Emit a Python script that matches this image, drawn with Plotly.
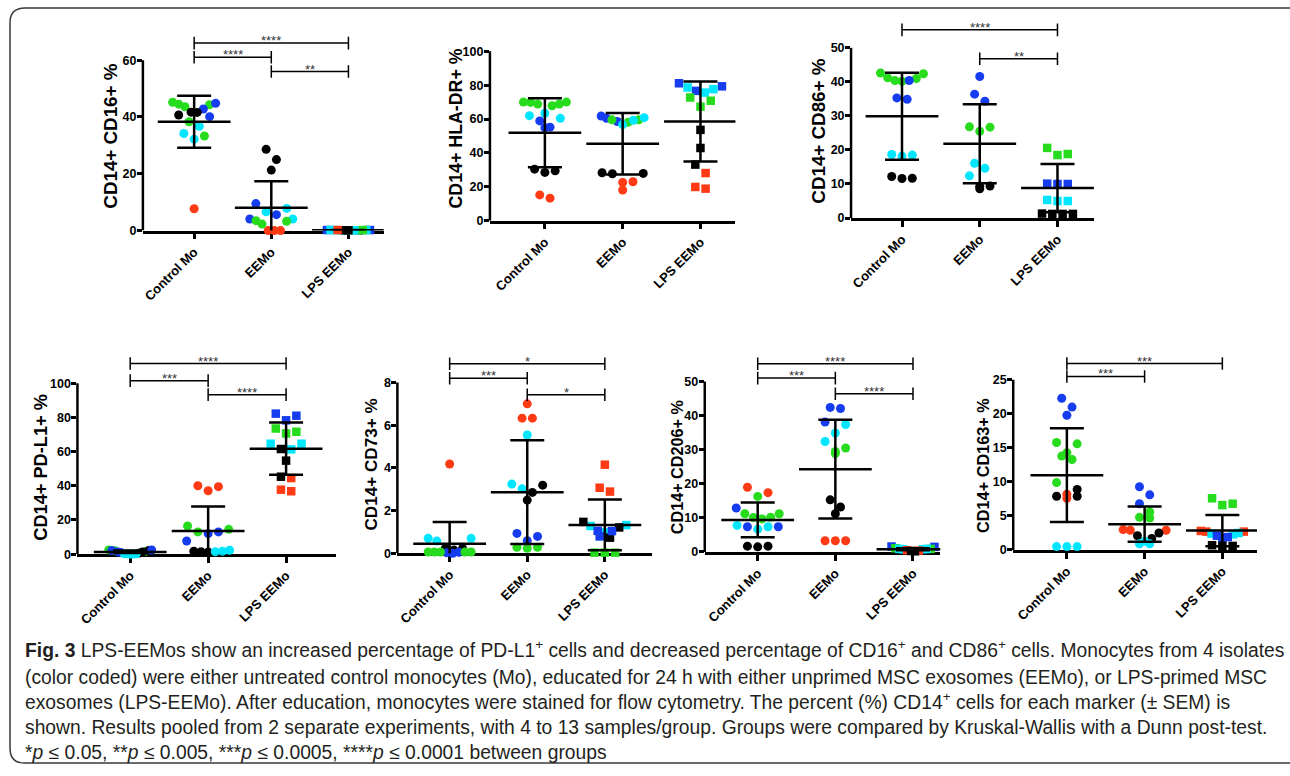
import plotly.graph_objects as go

W, H = 1290, 776

groups = ["Control Mo", "EEMo", "LPS EEMo"]

# ---------------- data ----------------
# colour codes: g green, b blue, c cyan, k black, r red
cd16_ctrl = [44.3, 43.6, 44.5, 45.2, 38.3, 33.3, 44.8, 42.8, 40.1, 41.6, 40.7, 41.7, 36.7, 34.2, 32.2, 7.7]
cd16_ctrl_c = "ggggggbbbkkkcccr"
cd16_ee = [28.6, 25.0, 21.3, 9.5, 5.6, 4.1, 7.8, 6.6, 4.1, 3.3, 2.3, 3.5, 0.0, 0.0, 0.0]
cd16_ee_c = "kkkbbbcccgggrrr"
cd16_lps = [0.2, 0.2, 0.1, 0.2, 0.1, 0.1, 0.2, 0.1, 0.2, 0.1, 0.1, 0.2, 0.2]
cd16_lps_c = "bbkcccckcckgr"
cd16_mean = [38.3, 8.0, 0.1]
cd16_sd = [9.15, 9.4, 0.1]

hladr_ctrl = [70.0, 69.8, 68.8, 70.0, 67.8, 68.8, 63.4, 62.0, 60.4, 58.9, 54.8, 55.2, 29.4, 28.5, 30.4, 13.3, 15.2]
hladr_ctrl_c = "ggggggcccbbbkkkrr"
hladr_ee = [61.8, 60.4, 58.5, 59.5, 58.1, 59.6, 56.7, 59.3, 60.8, 27.9, 27.7, 28.3, 23.0, 18.1, 22.6]
hladr_ee_c = "bbbgggccckkkrrr"
hladr_lps = [81.1, 76.6, 79.3, 78.6, 75.6, 77.6, 72.7, 67.3, 70.8, 53.6, 42.9, 33.1, 28.1, 18.9, 19.9]
hladr_lps_c = "bbbcccgggkkkrrr"
hladr_mean = [51.9, 45.4, 58.5]
hladr_sd = [20.4, 18.1, 23.6]

cd86_ctrl = [42.4, 41.0, 40.2, 40.4, 41.2, 42.6, 40.4, 34.9, 35.3, 18.5, 18.2, 18.7, 12.2, 11.6, 11.7]
cd86_ctrl_c = "ggggggbbbccckkk"
cd86_ee = [41.6, 36.4, 34.3, 26.7, 25.5, 26.8, 16.1, 14.6, 12.4, 9.4, 8.6, 9.3]
cd86_ee_c = "bbbgggccckkk"
cd86_lps = [18.8, 18.5, 20.6, 10.0, 10.0, 10.1, 5.0, 5.0, 5.3, 1.2, 1.2, 1.2, 1.3]
cd86_lps_c = "gggbbbccckkkk"
cd86_mean = [29.9, 21.8, 8.8]
cd86_sd = [12.8, 11.6, 7.1]

pdl1_ctrl = [2.5, 2.0, 1.6, 2.1, 1.2, 0.7, 1.3, 1.0, 2.4, 2.2, 0.1, 0.2, 0.2, 0.3, 0.1]
pdl1_ctrl_c = "gggkkkbbbbccccc"
pdl1_ee = [39.5, 37.1, 40.0, 13.0, 14.5, 16.5, 12.0, 13.0, 7.7, 1.7, 1.4, 1.2, 1.4, 1.7, 2.3]
pdl1_ee_c = "rrrgggbbbkkkccc"
pdl1_lps = [81.0, 78.3, 82.2, 73.5, 70.6, 71.6, 64.6, 61.3, 64.6, 61.5, 54.7, 45.3, 44.5, 36.8, 37.7]
pdl1_lps_c = "bbbgggccckkkrrr"
pdl1_mean = [1.2, 13.5, 61.7]
pdl1_sd = [0.9, 14.4, 15.3]

cd73_ctrl = [4.18, 0.70, 0.57, 0.70, 0.23, 0.23, 0.15, 0.0, 0.05, 0.03, 0.06, 0.06, 0.06, 0.06, 0.06]
cd73_ctrl_c = "rccckkkbbbggggg"
cd73_ee = [7.0, 6.33, 6.33, 5.54, 3.02, 3.24, 3.19, 2.49, 2.85, 0.93, 0.79, 0.59, 0.28, 0.23, 0.28]
cd73_ee_c = "rrrccckkkbbbggg"
cd73_lps = [4.15, 3.07, 2.89, 1.32, 1.28, 0.98, 1.21, 1.47, 0.73, 1.04, 0.79, 1.05, 0.03, 0.03, 0.03]
cd73_lps_c = "rrrccckkkbbbggg"
cd73_mean = [0.45, 2.86, 1.33]
cd73_sd = [1.01, 2.43, 1.19]

cd206_ctrl = [17.4, 19.0, 16.3, 11.2, 11.2, 10.1, 10.2, 9.7, 12.9, 7.4, 7.4, 6.7, 7.4, 7.8, 1.7, 1.5, 1.7]
cd206_ctrl_c = "rrggggggbbbccckkk"
cd206_ee = [42.1, 42.4, 38.1, 37.4, 34.9, 32.4, 29.5, 28.9, 30.5, 15.3, 13.2, 11.2, 3.3, 3.3, 3.3]
cd206_ee_c = "bbbcccgggkkkrrr"
cd206_lps = [1.5, 1.6, 1.1, 0.9, 0.9, 0.8, 0.9, 0.8, 0.4, 0.5, 0.2, 0.3]
cd206_lps_c = "bbggccccrrkk"
cd206_mean = [9.4, 24.3, 0.8]
cd206_sd = [5.1, 14.5, 0.3]

cd163_ctrl = [22.3, 21.0, 19.8, 15.6, 15.8, 14.3, 13.8, 13.3, 9.9, 8.2, 7.6, 7.9, 7.9, 8.9, 0.5, 0.5, 0.5]
cd163_ctrl_c = "bbbggggggrrkkkccc"
cd163_ee = [9.3, 8.1, 6.8, 5.6, 4.7, 4.8, 3.0, 2.9, 2.9, 2.1, 2.5, 1.7, 1.3, 0.9, 0.9]
cd163_ee_c = "bbbgggrrrkkkccc"
cd163_lps = [7.6, 6.6, 6.8, 2.7, 2.7, 2.8, 2.5, 2.3, 2.4, 1.9, 2.1, 1.7, 0.7, 0.6, 0.6]
cd163_lps_c = "gggrrrcccbbbkkk"
cd163_mean = [11.0, 3.8, 2.85]
cd163_sd = [6.9, 2.6, 2.3]

y_titles = ["CD14+ CD16+ %", "CD14+ HLA-DR+ %", "CD14+ CD86+ %", "CD14+ PD-L1+ %",
            "CD14+ CD73+ %", "CD14+ CD206+ %", "CD14+ CD163+ %"]
y_ticks = [[0, 20, 40, 60], [0, 20, 40, 60, 80, 100], [0, 10, 20, 30, 40, 50],
           [0, 20, 40, 60, 80, 100], [0, 2, 4, 6, 8], [0, 10, 20, 30, 40, 50],
           [0, 5, 10, 15, 20, 25]]

# comparisons: (group a, group b, label, bracket level in data units)
cd16_sig = [(0, 2, "****", 66.0), (0, 1, "****", 61.0), (1, 2, "**", 56.0)]
hladr_sig = []
cd86_sig = [(0, 2, "****", 55.3), (1, 2, "**", 46.8)]
pdl1_sig = [(0, 2, "****", 111.5), (0, 1, "***", 101.5), (1, 2, "****", 93.3)]
cd73_sig = [(0, 2, "*", 8.88), (0, 1, "***", 8.2), (1, 2, "*", 7.43)]
cd206_sig = [(0, 2, "****", 55.2), (0, 1, "***", 51.0), (1, 2, "****", 46.4)]
cd163_sig = [(0, 2, "***", 27.4), (0, 1, "***", 25.5)]

panels = [
    ([(cd16_ctrl, cd16_ctrl_c), (cd16_ee, cd16_ee_c), (cd16_lps, cd16_lps_c)], cd16_mean, cd16_sd, cd16_sig),
    ([(hladr_ctrl, hladr_ctrl_c), (hladr_ee, hladr_ee_c), (hladr_lps, hladr_lps_c)], hladr_mean, hladr_sd, hladr_sig),
    ([(cd86_ctrl, cd86_ctrl_c), (cd86_ee, cd86_ee_c), (cd86_lps, cd86_lps_c)], cd86_mean, cd86_sd, cd86_sig),
    ([(pdl1_ctrl, pdl1_ctrl_c), (pdl1_ee, pdl1_ee_c), (pdl1_lps, pdl1_lps_c)], pdl1_mean, pdl1_sd, pdl1_sig),
    ([(cd73_ctrl, cd73_ctrl_c), (cd73_ee, cd73_ee_c), (cd73_lps, cd73_lps_c)], cd73_mean, cd73_sd, cd73_sig),
    ([(cd206_ctrl, cd206_ctrl_c), (cd206_ee, cd206_ee_c), (cd206_lps, cd206_lps_c)], cd206_mean, cd206_sd, cd206_sig),
    ([(cd163_ctrl, cd163_ctrl_c), (cd163_ee, cd163_ee_c), (cd163_lps, cd163_lps_c)], cd163_mean, cd163_sd, cd163_sig),
]

caption_lines = [
    "<b>Fig. 3</b> LPS-EEMos show an increased percentage of PD-L1<sup>+</sup> cells and decreased percentage of CD16<sup>+</sup> and CD86<sup>+</sup> cells. Monocytes from 4 isolates",
    "(color coded) were either untreated control monocytes (Mo), educated for 24 h with either unprimed MSC exosomes (EEMo), or LPS-primed MSC",
    "exosomes (LPS-EEMo). After education, monocytes were stained for flow cytometry. The percent (%) CD14<sup>+</sup> cells for each marker (± SEM) is",
    "shown. Results pooled from 2 separate experiments, with 4 to 13 samples/group. Groups were compared by Kruskal-Wallis with a Dunn post-test.",
    "*<i>p</i> ≤ 0.05, **<i>p</i> ≤ 0.005, ***<i>p</i> ≤ 0.0005, ****<i>p</i> ≤ 0.0001 between groups",
]

# ---------------- layout geometry (pixels) ----------------
geom = [
    dict(xl=142, xr=383, y0=232.7, yt=60.7, c0=193.3, c2=347.7, tx=110, ty=137, fs=18.8),
    dict(xl=489.3, xr=735, y0=222.7, yt=51.7, c0=544.3, c2=700.0, tx=455, ty=130, fs=17.8),
    dict(xl=850.7, xr=1094, y0=220.0, yt=48.3, c0=901.7, c2=1057.3, tx=818, ty=132.5, fs=18.8),
    dict(xl=76.5, xr=335, y0=559.2, yt=386.7, c0=129.3, c2=285.3, tx=40, ty=471, fs=18.2),
    dict(xl=396.7, xr=652, y0=558.3, yt=386.0, c0=449.0, c2=604.3, tx=371, ty=469, fs=17.1),
    dict(xl=704.3, xr=940, y0=557.0, yt=385.0, c0=757.3, c2=912.7, tx=676, ty=471, fs=16.2),
    dict(xl=1013, xr=1257, y0=555.0, yt=383.3, c0=1066.7, c2=1222.3, tx=983, ty=470, fs=16.3),
]

COL = {"g": "#26dc1c", "b": "#163cf0", "c": "#00e6ff", "k": "#000000", "r": "#ff3a14"}
FONT = "Liberation Sans, Arial, sans-serif"


def swarm(vals, ppu, h=12.0, maxw=43.0, step=10.3):
    """GraphPad-like row spreading: returns horizontal pixel offsets."""
    idx = sorted(range(len(vals)), key=lambda i: -vals[i])
    offs = [0.0] * len(vals)
    k = 0
    while k < len(idx):
        start = vals[idx[k]]
        row = [idx[k]]
        k += 1
        while k < len(idx) and (start - vals[idx[k]]) * ppu < h:
            row.append(idx[k])
            k += 1
        n = len(row)
        if n > 1:
            s = min(step, maxw / (n - 1))
            slots = [(-(n - 1) / 2 + m) * s for m in range(n)]
            lo, hi, t, order = 0, n - 1, 0, []
            while lo <= hi:
                if t % 2 == 0:
                    order.append(slots[lo]); lo += 1
                else:
                    order.append(slots[hi]); hi -= 1
                t += 1
            for pt, pos in zip(row, order):
                offs[pt] = pos
    return offs


fig = go.Figure()
shapes = []
annotations = []
layout_axes = {}

for p, ((grps, mean, sd, sig), g) in enumerate(zip(panels, geom)):
    n = p + 1
    xs = "" if n == 1 else str(n)
    xref, yref = "x" + xs, "y" + xs
    ticks = y_ticks[p]
    top = ticks[-1]
    sp = (g["c2"] - g["c0"]) / 2.0
    ppu = (g["y0"] - g["yt"]) / top
    top_px = g["yt"] - 8
    if sig:
        top_px = min(top_px, g["y0"] - max(s[3] for s in sig) * ppu - 18)
    yr_top = (g["y0"] - top_px) / ppu

    layout_axes["xaxis" + xs] = dict(
        domain=[g["xl"] / W, g["xr"] / W], anchor=yref,
        range=[(g["xl"] - g["c0"]) / sp, 2 + (g["xr"] - g["c2"]) / sp],
        tickvals=[0, 1, 2], ticktext=groups, tickangle=-45,
        ticks="outside", ticklen=6, tickwidth=2.5, tickcolor="black",
        showline=True, linewidth=2.5, linecolor="black", layer="below traces",
        showgrid=False, zeroline=False, fixedrange=True,
        tickfont=dict(family=FONT, size=13, color="black", weight="bold"),
    )
    layout_axes["yaxis" + xs] = dict(
        domain=[1 - g["y0"] / H, 1 - top_px / H], anchor=xref,
        range=[0, yr_top], tickvals=ticks,
        ticks="outside", ticklen=5, tickwidth=2.5, tickcolor="black",
        ticklabelstandoff=-2,
        showline=False, showgrid=False, zeroline=False, fixedrange=True,
        tickfont=dict(family=FONT, size=12.5, color="black", weight="bold"),
    )
    # y axis line only up to the last tick (GraphPad style)
    shapes.append(dict(type="line", xref=xref + " domain", x0=0, x1=0, yref=yref,
                       y0=0, y1=top, line=dict(color="black", width=2.5)))

    # points
    for gi, (vals, cols) in enumerate(grps):
        offs = swarm(vals, ppu)
        fig.add_trace(go.Scatter(
            x=[gi + o / sp for o in offs], y=vals, xaxis=xref, yaxis=yref,
            mode="markers", cliponaxis=False, hoverinfo="skip", showlegend=False,
            marker=dict(symbol="square" if gi == 2 else "circle",
                        size=8.5 if gi == 2 else 9,
                        color=[COL[c] for c in cols], line=dict(width=0)),
        ))
    # mean +/- SD
    fig.add_trace(go.Scatter(
        x=[0, 1, 2], y=mean, xaxis=xref, yaxis=yref, mode="markers",
        cliponaxis=True, hoverinfo="skip", showlegend=False,
        marker=dict(symbol="line-ew", size=52, color="black", line=dict(color="black", width=2.5)),
        error_y=dict(type="data", array=sd, visible=True, color="black", thickness=2.5, width=17),
    ))
    # significance brackets
    for a, b, lab, lvl in sig:
        fig.add_trace(go.Scatter(
            x=[a, b], y=[lvl, lvl], xaxis=xref, yaxis=yref, mode="lines+markers",
            hoverinfo="skip", showlegend=False, line=dict(color="black", width=1.5),
            marker=dict(symbol="line-ns", size=9, color="black", line=dict(color="black", width=1.5)),
        ))
        annotations.append(dict(x=(a + b) / 2, y=lvl, xref=xref, yref=yref, text=lab,
                                showarrow=False, yanchor="bottom", yshift=-7,
                                font=dict(family=FONT, size=13, color="#333333")))
    # y title
    annotations.append(dict(x=g["tx"] / W, y=1 - g["ty"] / H, xref="paper", yref="paper",
                            text=y_titles[p], textangle=-90, showarrow=False,
                            xanchor="center", yanchor="middle",
                            font=dict(family=FONT, size=g["fs"], color="black", weight="bold")))

# caption
cap_y = [655, 684, 707, 734, 759]
for line, yy in zip(caption_lines, cap_y):
    annotations.append(dict(x=22 / W, y=1 - yy / H, xref="paper", yref="paper", text=line,
                            showarrow=False, xanchor="left", yanchor="middle",
                            font=dict(family="Liberation Sans, Arial", size=19.3, color="#231f20")))

# rounded frame
def P(x, y):
    return f"{x / W:.5f},{1 - y / H:.5f}"

frame = (f"M {P(1300, 8)} L {P(24, 8)} Q {P(9, 8)} {P(9, 23)} L {P(9, 755)} "
         f"Q {P(9, 770)} {P(24, 770)} L {P(1300, 770)}")
shapes.append(dict(type="path", xref="paper", yref="paper", path=frame,
                   line=dict(color="#3a3a3a", width=1.5)))

fig.update_layout(
    width=W, height=H, margin=dict(l=0, r=0, t=0, b=0),
    paper_bgcolor="white", plot_bgcolor="rgba(0,0,0,0)",
    shapes=shapes, annotations=annotations, **layout_axes,
)

fig.write_html("out.html")
